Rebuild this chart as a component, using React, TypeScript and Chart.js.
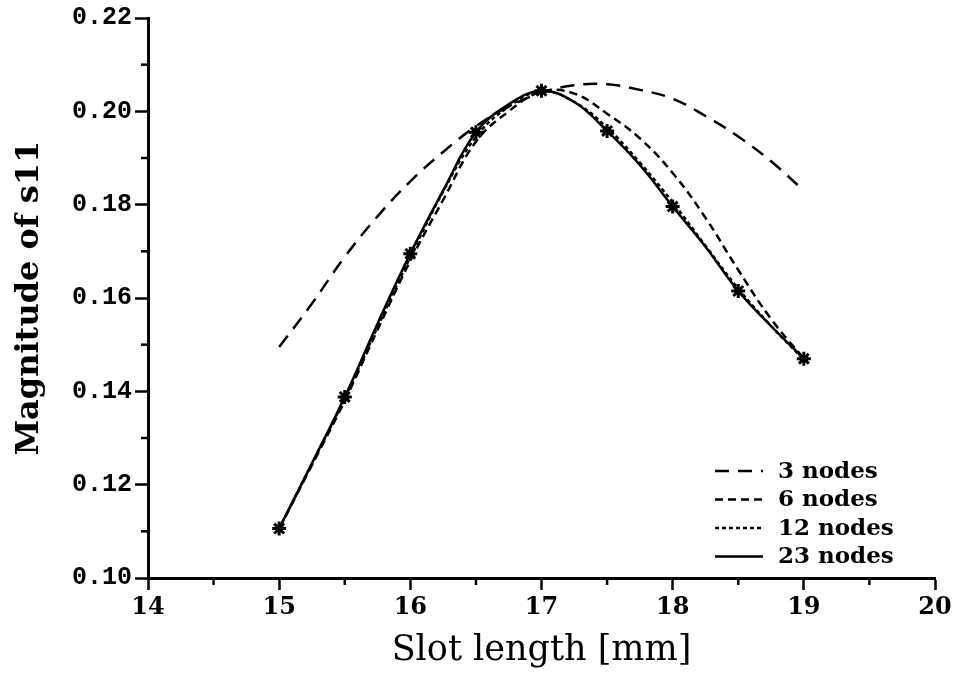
import React, { useEffect, useRef } from "react";
import { Chart, registerables } from "chart.js";

Chart.register(...registerables);

// x positions of the sampled curve points (mm)
const slotLength = [15, 15.25, 15.5, 15.75, 16, 16.25, 16.5, 16.75, 17, 17.25, 17.5, 17.75, 18, 18.25, 18.5, 18.75, 19];

const nodes3 = [0.1495, 0.1588, 0.1688, 0.1775, 0.185, 0.1913, 0.1968, 0.201, 0.204, 0.2056, 0.2058, 0.2046, 0.2027, 0.199, 0.1946, 0.1893, 0.183];
const nodes6 = [0.1106, 0.1242, 0.138, 0.1532, 0.168, 0.181, 0.1935, 0.2, 0.2042, 0.2038, 0.1995, 0.1942, 0.1868, 0.1772, 0.166, 0.1555, 0.147];
const nodes12 = [0.1106, 0.1245, 0.1385, 0.1538, 0.1688, 0.1828, 0.1945, 0.201, 0.2043, 0.202, 0.1965, 0.189, 0.1805, 0.1712, 0.162, 0.154, 0.1468];
const nodes23 = [0.1106, 0.1246, 0.1388, 0.1545, 0.1695, 0.183, 0.1955, 0.2015, 0.2044, 0.202, 0.1958, 0.1885, 0.1796, 0.171, 0.1615, 0.154, 0.147];
// which samples of the 23-node curve carry a star marker
const starMarked = [true, false, true, false, true, false, true, false, true, false, true, false, true, false, true, false, true];

const seriesLabels = ["3 nodes", "6 nodes", "12 nodes", "23 nodes"];
const yTicks = { min: 0.1, max: 0.22, step: 0.02 };
const xTicks = { min: 14, max: 20, step: 1 };

const toPoints = (vals: number[]) => vals.map((v, i) => ({ x: slotLength[i], y: v }));

const minorTicksPlugin = {
  id: "minorTicks",
  afterDraw(chart: any) {
    const { ctx } = chart;
    const xs = chart.scales.x;
    const ys = chart.scales.y;
    ctx.save();
    ctx.strokeStyle = "#000";
    ctx.lineWidth = 2.5;
    ctx.setLineDash([]);
    const xv = xs.ticks.map((t: any) => t.value);
    for (let i = 0; i < xv.length - 1; i++) {
      const px = xs.getPixelForValue((xv[i] + xv[i + 1]) / 2);
      ctx.beginPath();
      ctx.moveTo(px, xs.top);
      ctx.lineTo(px, xs.top + 7);
      ctx.stroke();
    }
    const yv = ys.ticks.map((t: any) => t.value);
    for (let i = 0; i < yv.length - 1; i++) {
      const py = ys.getPixelForValue((yv[i] + yv[i + 1]) / 2);
      ctx.beginPath();
      ctx.moveTo(ys.right - 7, py);
      ctx.lineTo(ys.right, py);
      ctx.stroke();
    }
    ctx.restore();
  },
};

const legendPlugin = {
  id: "plotLegend",
  afterDatasetsDraw(chart: any) {
    const { ctx, chartArea } = chart;
    const lineStart = chartArea.right - 220;
    const lineEnd = chartArea.right - 172;
    const textX = chartArea.right - 157;
    const firstRow = chartArea.bottom - 107;
    const rowGap = 28.5;
    ctx.save();
    ctx.font = "bold 23px 'DejaVu Serif'";
    ctx.textBaseline = "middle";
    ctx.textAlign = "left";
    chart.data.datasets.forEach((ds: any, i: number) => {
      const y = firstRow + i * rowGap;
      ctx.strokeStyle = "#000";
      ctx.lineWidth = ds.borderWidth;
      ctx.setLineDash(ds.borderDash || []);
      ctx.beginPath();
      ctx.moveTo(lineStart, y);
      ctx.lineTo(lineEnd, y);
      ctx.stroke();
      ctx.setLineDash([]);
      ctx.fillStyle = "#000";
      ctx.fillText(ds.label, textX, y + 1);
    });
    ctx.restore();
  },
};

export default function App() {
  const canvasRef = useRef<HTMLCanvasElement | null>(null);

  useEffect(() => {
    if (!canvasRef.current) return;
    const common = {
      borderColor: "#000",
      backgroundColor: "#000",
      borderWidth: 2.5,
      fill: false,
      tension: 0.4,
      pointRadius: 0,
    };
    const chart = new Chart(canvasRef.current, {
      type: "line",
      data: {
        datasets: [
          { ...common, label: seriesLabels[0], data: toPoints(nodes3), borderDash: [14, 9] },
          { ...common, label: seriesLabels[1], data: toPoints(nodes6), borderDash: [8, 5] },
          { ...common, label: seriesLabels[2], data: toPoints(nodes12), borderDash: [4, 3] },
          {
            ...common,
            label: seriesLabels[3],
            data: toPoints(nodes23),
            borderDash: [],
            pointStyle: "star",
            pointRadius: starMarked.map((m) => (m ? 7 : 0)),
            pointBorderWidth: 3,
            pointBorderColor: "#000",
          },
        ],
      },
      options: {
        animation: false,
        responsive: false,
        events: [],
        layout: { padding: { left: 0, right: 20, top: 17, bottom: 0 } },
        plugins: { legend: { display: false }, tooltip: { enabled: false } },
        scales: {
          x: {
            type: "linear",
            min: xTicks.min,
            max: xTicks.max,
            afterFit: (s: any) => {
              s.height = 104;
            },
            ticks: {
              stepSize: xTicks.step,
              color: "#000",
              padding: 3,
              maxRotation: 0,
              font: { family: "'DejaVu Serif'", size: 24, weight: "bold" },
            },
            grid: { drawOnChartArea: false, drawTicks: true, tickLength: 12, tickWidth: 2.5, tickColor: "#000" },
            border: { display: true, color: "#000", width: 3 },
            title: {
              display: true,
              text: "Slot length [mm]",
              color: "#000",
              padding: { top: 0, bottom: 10 },
              font: { family: "'DejaVu Serif'", size: 35, weight: "normal" },
            },
          },
          y: {
            type: "linear",
            min: yTicks.min,
            max: yTicks.max,
            afterFit: (s: any) => {
              s.width = 148;
            },
            ticks: {
              stepSize: yTicks.step,
              color: "#000",
              padding: 3,
              callback: (v: any) => Number(v).toFixed(2),
              font: { family: "'Liberation Mono'", size: 25, weight: "bold" },
            },
            grid: { drawOnChartArea: false, drawTicks: true, tickLength: 13, tickWidth: 2.5, tickColor: "#000" },
            border: { display: true, color: "#000", width: 3 },
            title: {
              display: true,
              text: "Magnitude of s11",
              color: "#000",
              padding: { top: 10, bottom: 0 },
              font: { family: "'DejaVu Serif'", size: 32, weight: "bold" },
            },
          },
        },
      },
      plugins: [minorTicksPlugin, legendPlugin],
    });
    return () => chart.destroy();
  }, []);

  return (
    <div style={{ position: "absolute", left: 0, top: 0, width: 955, height: 682, background: "#fff" }}>
      <canvas ref={canvasRef} width={955} height={682} style={{ display: "block" }} />
    </div>
  );
}
